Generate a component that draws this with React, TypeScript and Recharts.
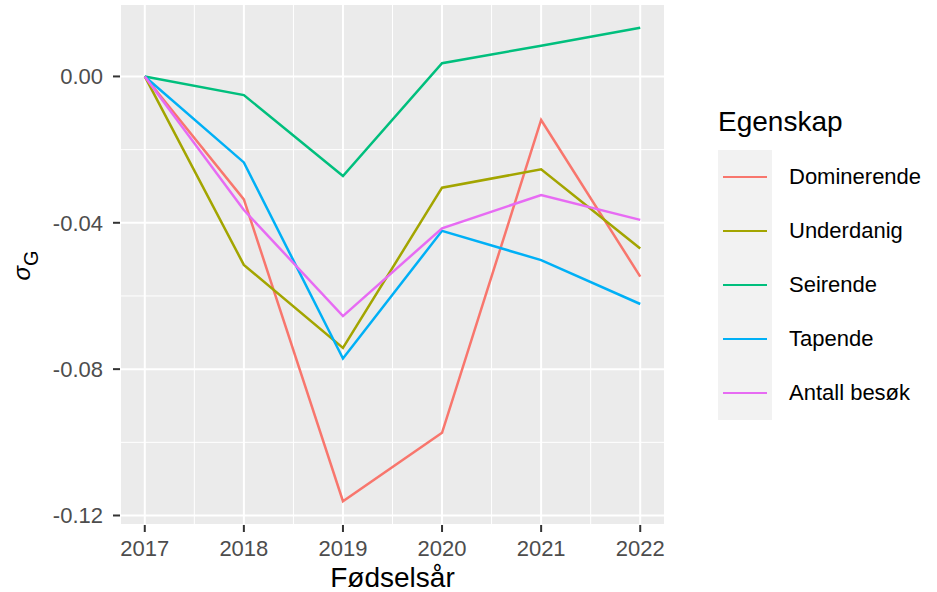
import React from 'react';
import { LineChart, Line, XAxis, YAxis, CartesianGrid, Legend } from 'recharts';

const years = [2017, 2018, 2019, 2020, 2021, 2022];
const dominerende = [0, -0.0336, -0.1161, -0.0974, -0.0119, -0.0547];
const underdanig = [0, -0.0515, -0.0742, -0.0304, -0.0254, -0.047];
const seirende = [0, -0.0051, -0.0272, 0.0036, 0.0084, 0.0133];
const tapende = [0, -0.0235, -0.0771, -0.0422, -0.0502, -0.0622];
const antallBesok = [0, -0.0365, -0.0655, -0.0415, -0.0324, -0.0392];

const yTicks = [0, -0.04, -0.08, -0.12];
const xMinor = [2017.5, 2018.5, 2019.5, 2020.5, 2021.5];
const yMinor = [-0.02, -0.06, -0.1];

const series = [
  { key: 'dominerende', name: 'Dominerende', color: '#F8766D', values: dominerende },
  { key: 'underdanig', name: 'Underdanig', color: '#A3A500', values: underdanig },
  { key: 'seirende', name: 'Seirende', color: '#00BF7D', values: seirende },
  { key: 'tapende', name: 'Tapende', color: '#00B0F6', values: tapende },
  { key: 'antall', name: 'Antall besøk', color: '#E76BF3', values: antallBesok },
];

const data = years.map((year, i) => {
  const row: Record<string, number> = { year };
  series.forEach(s => { row[s.key] = s.values[i]; });
  return row;
});

const FONT = '"Liberation Sans", Arial, sans-serif';

const YTitle = (props: any) => {
  const { viewBox } = props;
  const cx = 30;
  const cy = viewBox.y + viewBox.height / 2 + 1;
  return (
    <text transform={`rotate(-90, ${cx}, ${cy})`} x={cx} y={cy} textAnchor="middle" fontSize={24} fill="#000">
      <tspan fontStyle="italic">σ</tspan>
      <tspan fontSize={20} dy={8}>G</tspan>
    </text>
  );
};

// legend keeps the series order (recharts would sort it by name)
const renderLegend = () => (
  <div style={{ fontFamily: FONT, textAlign: 'left' }}>
    <div style={{ fontSize: 28, lineHeight: '32px', color: '#000' }}>Egenskap</div>
    <div style={{ marginTop: 12, position: 'relative' }}>
      <div style={{ position: 'absolute', left: 0, top: 0, width: 54, height: series.length * 54, background: '#F2F2F2' }} />
      {series.map(s => (
        <div key={s.key} style={{ position: 'relative', height: 54, display: 'flex', alignItems: 'center' }}>
          <div style={{ width: 44, height: 2.5, background: s.color, marginLeft: 5 }} />
          <span style={{ marginLeft: 22, fontSize: 22, color: '#000' }}>{s.name}</span>
        </div>
      ))}
    </div>
  </div>
);

const App: React.FC = () => {
  return (
    <div style={{ position: 'absolute', left: 0, top: 0, width: 937, height: 592, background: '#fff', fontFamily: FONT }}>
      <LineChart width={937} height={592} data={data} margin={{ top: 4, right: 272, bottom: 0, left: 0 }}>
        <CartesianGrid fill="#EBEBEB" stroke="#fff" strokeWidth={1} horizontalValues={yMinor} verticalValues={xMinor} />
        <CartesianGrid stroke="#fff" strokeWidth={2} />
        <XAxis
          dataKey="year"
          type="number"
          domain={[2016.75, 2022.25]}
          allowDataOverflow
          ticks={years}
          axisLine={false}
          tickLine={{ stroke: '#333', strokeWidth: 2 }}
          tickSize={7}
          tickMargin={8}
          height={67}
          tick={{ fill: '#4D4D4D', fontSize: 22 }}
          label={{ value: 'Fødselsår', position: 'insideBottom', offset: 5, fontSize: 28, fill: '#000' }}
        />
        <YAxis
          type="number"
          domain={[-0.1226, 0.0198]}
          allowDataOverflow
          ticks={yTicks}
          tickFormatter={(v: number) => v.toFixed(2)}
          axisLine={false}
          tickLine={{ stroke: '#333', strokeWidth: 2 }}
          tickSize={7}
          tickMargin={10}
          width={120}
          tick={{ fill: '#4D4D4D', fontSize: 22 }}
          label={<YTitle />}
        />
        <Legend
          layout="vertical"
          align="center"
          verticalAlign="middle"
          content={renderLegend}
          wrapperStyle={{ left: 718, top: 106, width: 219, right: 'auto', bottom: 'auto' }}
        />
        {series.map(s => (
          <Line
            key={s.key}
            dataKey={s.key}
            name={s.name}
            stroke={s.color}
            strokeWidth={2.5}
            dot={false}
            activeDot={false}
            type="linear"
            isAnimationActive={false}
          />
        ))}
      </LineChart>
    </div>
  );
};

export default App;
